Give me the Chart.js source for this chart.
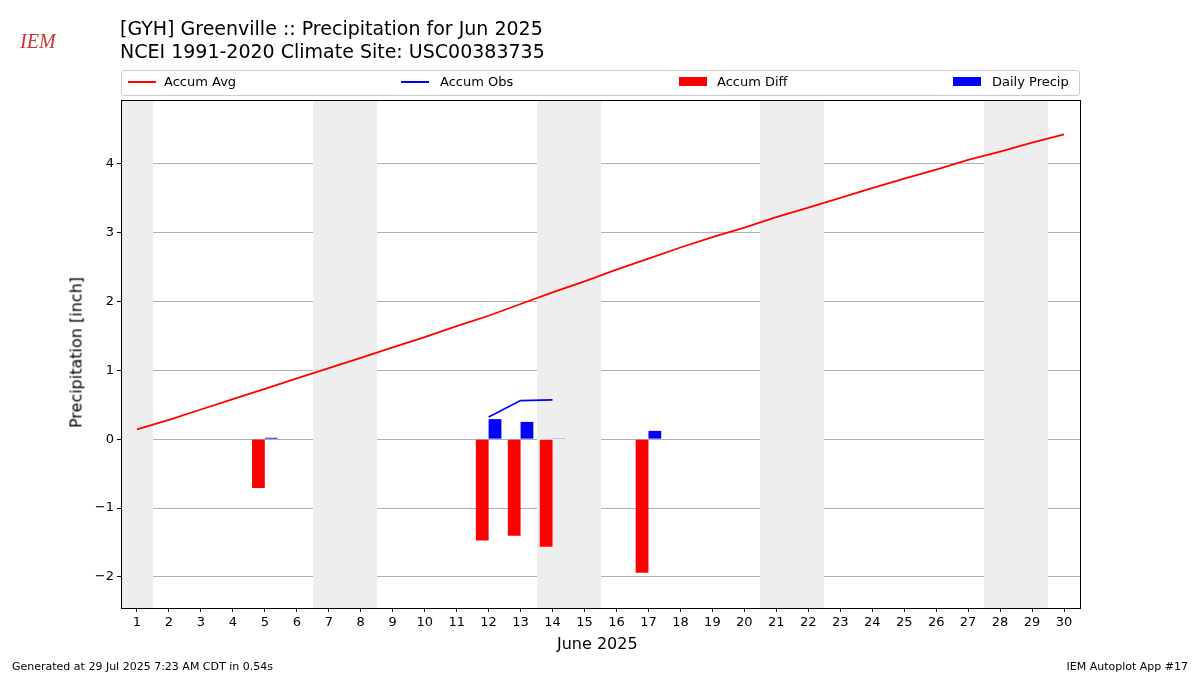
<!DOCTYPE html>
<html><head><meta charset="utf-8">
<script src="https://cdn.jsdelivr.net/npm/chart.js@4"></script>
<style>
body{margin:0;background:#fff;font-family:"DejaVu Sans",sans-serif;}
#wrap{position:relative;width:1200px;height:675px;}
canvas{position:absolute;left:0;top:0;}
.t{position:absolute;color:#000;white-space:nowrap;}
#legend{position:absolute;left:121px;top:70px;width:957px;height:24px;border:1px solid #ccc;border-radius:3px;font-size:13px;}
#legend span{position:absolute;top:3px;}
.ln{position:absolute;top:10px;width:28px;height:2px;}
.bx{position:absolute;top:6px;width:28px;height:9px;}
</style></head><body>
<div id="wrap">
<canvas id="c" width="1200" height="675"></canvas>
<div class="t" style="left:20px;top:30px;font:italic 20px 'Liberation Serif';color:#c33">IEM</div>
<div class="t" style="left:120px;top:17px;font-size:19px">[GYH] Greenville :: Precipitation for Jun 2025</div>
<div class="t" style="left:120px;top:40px;font-size:19px">NCEI 1991-2020 Climate Site: USC00383735</div>
<div id="legend">
 <div class="ln" style="left:6px;background:red"></div><span style="left:42px">Accum Avg</span>
 <div class="ln" style="left:279px;background:blue"></div><span style="left:318px">Accum Obs</span>
 <div class="bx" style="left:557px;background:red"></div><span style="left:595px">Accum Diff</span>
 <div class="bx" style="left:831px;background:blue"></div><span style="left:870px">Daily Precip</span>
</div>
<div class="t" style="left:557px;top:634px;font-size:16px">June 2025</div>
<div class="t" style="left:-14px;top:343px;font-size:16px;transform:rotate(-90deg);transform-origin:center;width:180px;text-align:center">Precipitation [inch]</div>
<div class="t" style="left:12px;top:660px;font-size:11px">Generated at 29 Jul 2025 7:23 AM CDT in 0.54s</div>
<div class="t" style="right:12px;top:660px;font-size:11px">IEM Autoplot App #17</div>
</div>
<script>
const days = Array.from({length: 30}, (_, i) => String(i + 1));
const accumAvg = [0.14,0.28,0.43,0.58,0.73,0.88,1.03,1.18,1.33,1.48,1.64,1.79,1.96,2.13,2.29,2.46,2.62,2.78,2.93,3.07,3.22,3.36,3.50,3.64,3.78,3.91,4.05,4.17,4.30,4.42];
const accumObs = [null,null,null,null,null,null,null,null,null,null,null,0.32,0.56,0.57,null,null,null,null,null,null,null,null,null,null,null,null,null,null,null,null];
const accumDiff = [null,null,null,null,-0.71,null,null,null,null,null,null,-1.47,-1.40,-1.56,null,null,-1.94,null,null,null,null,null,null,null,null,null,null,null,null,null];
const dailyPrecip = [null,null,null,null,0.02,null,null,null,null,null,null,0.29,0.25,0.01,null,null,0.12,null,null,null,null,null,null,null,null,null,null,null,null,null];
const weekendRanges = [[1,1],[7,8],[14,15],[21,22],[28,29]];

const shade = {
  id: 'shade',
  beforeDatasetsDraw(chart) {
    const {ctx, chartArea: a, scales: {x}} = chart;
    const half = (x.getPixelForValue(1) - x.getPixelForValue(0)) / 2;
    ctx.save();
    ctx.fillStyle = '#eeeeee';
    weekendRanges.forEach(([d0, d1]) => {
      const l = Math.max(Math.round(x.getPixelForValue(d0 - 1) - half), a.left);
      const r = Math.min(Math.round(x.getPixelForValue(d1 - 1) + half), a.right);
      ctx.fillRect(l, a.top, r - l, a.bottom - a.top);
    });
    ctx.restore();
  },
  afterDraw(chart) {
    const {ctx, chartArea: a} = chart;
    ctx.save();
    ctx.strokeStyle = '#000';
    ctx.lineWidth = 1;
    ctx.strokeRect(a.left + 0.5, a.top + 0.5, a.right - a.left, a.bottom - a.top);
    ctx.restore();
  }
};

new Chart(document.getElementById('c'), {
  data: {
    labels: days,
    datasets: [
      {type: 'line', data: accumAvg, borderColor: 'red', borderWidth: 1.8, pointRadius: 0, order: 0},
      {type: 'line', data: accumObs, borderColor: 'blue', borderWidth: 1.8, pointRadius: 0, spanGaps: false, order: 0},
      {type: 'bar', data: accumDiff, backgroundColor: 'red', categoryPercentage: 0.8, barPercentage: 1, order: 1},
      {type: 'bar', data: dailyPrecip, backgroundColor: 'blue', categoryPercentage: 0.8, barPercentage: 1, order: 1}
    ]
  },
  options: {
    responsive: false,
    animation: false,
    layout: {padding: {top: 100, right: 120, left: 0, bottom: 0}},
    plugins: {legend: {display: false}, tooltip: {enabled: false}},
    scales: {
      x: {
        offset: true,
        grid: {drawOnChartArea: false, drawTicks: true, tickColor: '#000', tickLength: 4, offset: false},
        border: {display: false},
        ticks: {color: '#000', font: {size: 13, family: 'DejaVu Sans'}, maxRotation: 0, autoSkip: false},
        afterFit: s => { s.height = 67; }
      },
      y: {
        min: -2.45, max: 4.92,
        grid: {color: '#b0b0b0', drawTicks: true, tickColor: '#000', tickLength: 4},
        border: {display: false},
        ticks: {stepSize: 1, color: '#000', font: {size: 13, family: 'DejaVu Sans'},
          callback: v => Number.isInteger(v) ? String(v).replace('-', '\u2212') : null},
        afterBuildTicks: s => { s.ticks = [-2,-1,0,1,2,3,4].map(v => ({value: v})); },
        afterFit: s => { s.width = 121; }
      }
    }
  },
  plugins: [shade]
});
</script>
</body></html>
